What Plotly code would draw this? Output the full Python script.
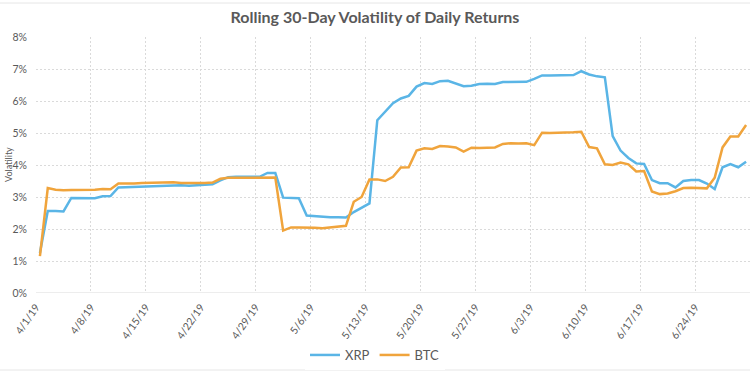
import pandas as pd
import plotly.graph_objects as go

# ---- data (percent) ----
dates = pd.date_range("2019-04-01", "2019-06-30", freq="D")

xrp = [1.25, 2.56, 2.56, 2.55, 2.97, 2.97, 2.97, 2.96, 3.02, 3.03,
       3.30, 3.31, 3.32, 3.33, 3.34, 3.35, 3.36, 3.37, 3.37, 3.35,
       3.37, 3.38, 3.40, 3.52, 3.62, 3.63, 3.63, 3.63, 3.63, 3.75,
       3.75, 2.98, 2.97, 2.96, 2.42, 2.40, 2.38, 2.37, 2.37, 2.36,
       2.53, 2.66, 2.80, 5.40, 5.68, 5.93, 6.08, 6.16, 6.45, 6.56,
       6.53, 6.62, 6.63, 6.55, 6.46, 6.48, 6.53, 6.54, 6.53, 6.59,
       6.59, 6.59, 6.60, 6.69, 6.80, 6.80, 6.80, 6.80, 6.81, 6.93,
       6.83, 6.77, 6.74, 4.90, 4.45, 4.22, 4.05, 4.03, 3.53, 3.43,
       3.43, 3.30, 3.50, 3.53, 3.53, 3.42, 3.25, 3.93, 4.03, 3.93,
       4.10]

btc = [1.15, 3.28, 3.23, 3.21, 3.22, 3.22, 3.22, 3.23, 3.25, 3.24,
       3.42, 3.41, 3.42, 3.44, 3.45, 3.45, 3.46, 3.46, 3.44, 3.43,
       3.44, 3.44, 3.45, 3.57, 3.60, 3.60, 3.60, 3.60, 3.60, 3.61,
       3.61, 1.95, 2.05, 2.05, 2.05, 2.04, 2.02, 2.04, 2.06, 2.10,
       2.85, 3.00, 3.55, 3.55, 3.50, 3.63, 3.92, 3.93, 4.45, 4.52,
       4.50, 4.59, 4.58, 4.55, 4.42, 4.54, 4.53, 4.54, 4.55, 4.66,
       4.68, 4.67, 4.68, 4.62, 5.01, 5.00, 5.00, 5.01, 5.02, 5.04,
       4.56, 4.52, 4.02, 4.00, 4.08, 4.02, 3.80, 3.81, 3.17, 3.09,
       3.11, 3.18, 3.28, 3.29, 3.29, 3.27, 3.60, 4.55, 4.89, 4.89,
       5.25]

tick_dates = pd.date_range("2019-04-01", "2019-06-24", freq="7D")
tick_labels = ["4/1/19", "4/8/19", "4/15/19", "4/22/19", "4/29/19", "5/6/19",
               "5/13/19", "5/20/19", "5/27/19", "6/3/19", "6/10/19", "6/17/19",
               "6/24/19"]
y_ticks = [0, 1, 2, 3, 4, 5, 6, 7, 8]

XRP_COLOR = "#5AB5E6"
BTC_COLOR = "#F0A43C"
TEXT = "#595959"
GRID = "#DADADA"
FONT = "Lato"

# points sit in the middle of each day slot (Excel date axis style)
x_mid = dates + pd.Timedelta(hours=12)

fig = go.Figure()
fig.add_trace(go.Scatter(x=x_mid, y=xrp, mode="lines", name="XRP",
                         line=dict(color=XRP_COLOR, width=2.5)))
fig.add_trace(go.Scatter(x=x_mid, y=btc, mode="lines", name="BTC",
                         line=dict(color=BTC_COLOR, width=2.5)))

fig.update_layout(
    width=750, height=375,
    margin=dict(l=36, r=0, t=37, b=82, autoexpand=False),
    paper_bgcolor="white", plot_bgcolor="white",
    font=dict(family=FONT, color=TEXT, size=10),
    title=dict(text="<b>Rolling 30-Day Volatility of Daily Returns</b>",
               x=0.5, xref="container", xanchor="center",
               y=1 - 17 / 375, yref="container", yanchor="middle",
               font=dict(family=FONT, size=16, color=TEXT)),
    legend=dict(orientation="h", x=0.5, xref="container", xanchor="center",
                y=1 - 355 / 375, yref="container", yanchor="middle",
                font=dict(family=FONT, size=13, color=TEXT),
                itemwidth=30, tracegroupgap=0),
    showlegend=True,
)

fig.update_xaxes(
    type="date", automargin=False,
    range=[pd.Timestamp("2019-04-01"), pd.Timestamp("2019-07-01")],
    tickmode="array", tickvals=tick_dates, ticktext=tick_labels,
    tickangle=-55, tickfont=dict(family=FONT, size=10.5, color=TEXT),
    showgrid=True, gridcolor=GRID, griddash="2px,2px", gridwidth=1,
    showline=False, zeroline=False, ticks="", ticklabelstandoff=5,
)
fig.update_yaxes(
    range=[0, 8], tickmode="array", tickvals=y_ticks, automargin=False,
    ticktext=[f"{v}%" for v in y_ticks],
    tickfont=dict(family=FONT, size=10.5, color=TEXT),
    showgrid=True, gridcolor=GRID, griddash="2px,2px", gridwidth=1,
    zeroline=False, showline=False, ticks="", ticklabelstandoff=8,
)

# solid baseline at 0%
fig.add_shape(type="line", xref="paper", yref="y", x0=0, x1=1, y0=0, y1=0,
              line=dict(color=GRID, width=1))
# chart-area border lines (top and bottom)
fig.add_shape(type="line", xref="paper", yref="paper", x0=-36 / 714, x1=1,
              y0=1 + 34 / 256, y1=1 + 34 / 256, line=dict(color="#E6E6E6", width=1))
fig.add_shape(type="line", xref="paper", yref="paper", x0=-36 / 714, x1=1,
              y0=-(370 - 293) / 256, y1=-(370 - 293) / 256,
              line=dict(color="#E6E6E6", width=1))

fig.add_annotation(text="Volatility", textangle=-90, xref="paper", yref="paper",
                   x=(8 - 36) / 714, y=0.5, xanchor="center", yanchor="middle",
                   showarrow=False, font=dict(family=FONT, size=9, color=TEXT))

fig.write_html("out.html")
